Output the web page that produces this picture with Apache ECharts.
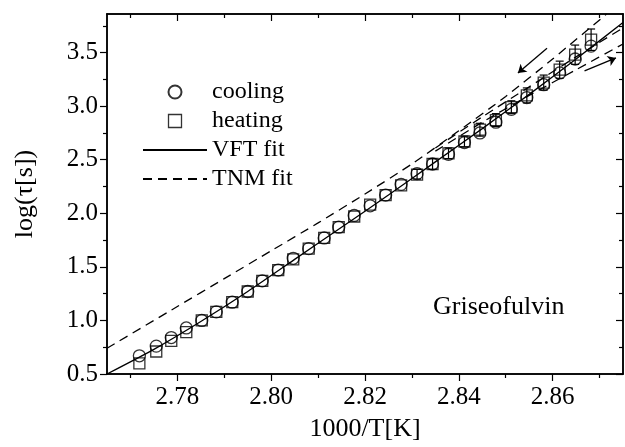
<!DOCTYPE html>
<html lang="en">
<head>
<meta charset="UTF-8">
<script src="https://cdn.jsdelivr.net/npm/echarts@6/dist/echarts.min.js"></script>
<style>
    html, body { margin: 0; padding: 0; background: #ffffff; }
    #chart { width: 625px; height: 447px; }
</style>
</head>
<body>
<div id="chart"></div>
<script>
    // measured points (1000/T)
    var invT = [2.7719, 2.7755, 2.7787, 2.7819, 2.7852, 2.7883, 2.7917, 2.7950, 2.7981, 2.8015,
                2.8047, 2.8080, 2.8113, 2.8144, 2.8177, 2.8211, 2.8244, 2.8277, 2.8311, 2.8344,
                2.8378, 2.8412, 2.8445, 2.8479, 2.8512, 2.8545, 2.8581, 2.8615, 2.8648, 2.8682];
    var coolingLog = [0.67, 0.76, 0.84, 0.93, 1.00, 1.08, 1.17, 1.27, 1.37, 1.47,
                      1.58, 1.67, 1.77, 1.87, 1.98, 2.07, 2.17, 2.27, 2.37, 2.46,
                      2.55, 2.66, 2.75, 2.85, 2.97, 3.08, 3.20, 3.31, 3.44, 3.56];
    var heatingLog = [0.60, 0.71, 0.81, 0.89, 1.00, 1.08, 1.17, 1.27, 1.37, 1.47,
                      1.57, 1.67, 1.77, 1.87, 1.97, 2.08, 2.17, 2.26, 2.36, 2.46,
                      2.56, 2.67, 2.78, 2.87, 2.99, 3.10, 3.22, 3.34, 3.48, 3.62];
    var errLog = [0, 0, 0, 0, 0, 0, 0, 0, 0, 0,
                  0, 0, 0, 0, 0, 0, 0, 0, 0.04, 0.05,
                  0.05, 0.05, 0.06, 0.06, 0.06, 0.07, 0.07, 0.08, 0.09, 0.10];

    // fit curves
    var vftX = [2.765, 2.775, 2.785, 2.795, 2.805, 2.815, 2.825, 2.835, 2.845, 2.855, 2.865, 2.875];
    var vftY = [0.50, 0.73, 0.99, 1.27, 1.57, 1.87, 2.17, 2.48, 2.79, 3.11, 3.44, 3.78];
    var tnmX = [2.765, 2.78, 2.79, 2.80, 2.81, 2.82, 2.83, 2.84, 2.85, 2.86, 2.8715];
    var tnmY = [0.74, 1.13, 1.39, 1.65, 1.91, 2.18, 2.46, 2.77, 3.09, 3.44, 3.86];
    var tnmMidX = [2.835, 2.845, 2.855, 2.865, 2.875];
    var tnmMidY = [2.61, 2.90, 3.18, 3.46, 3.73];
    var tnmLowX = [2.835, 2.845, 2.855, 2.865, 2.875];
    var tnmLowY = [2.58, 2.85, 3.10, 3.34, 3.58];

    var arrowCool = [[2.8588, 3.54], [2.8526, 3.31]];
    var arrowHeat = [[2.8668, 3.33], [2.8735, 3.45]];

    var xMajor = [2.78, 2.80, 2.82, 2.84, 2.86];
    var xMinor = [2.77, 2.79, 2.81, 2.83, 2.85, 2.87];
    var yMajor = [0.5, 1.0, 1.5, 2.0, 2.5, 3.0, 3.5];
    var yMinor = [0.75, 1.25, 1.75, 2.25, 2.75, 3.25, 3.75];

    var FONT = '"Liberation Serif", "DejaVu Serif", serif';
    var chart = echarts.init(document.getElementById('chart'));

    function pairs(xs, ys) {
        return xs.map(function (x, i) { return [x, ys[i]]; });
    }

    function xAxisDef(pos, ticks, len, inside, labels) {
        return {
            type: 'value', position: pos, min: 2.765, max: 2.875,
            name: labels ? '1000/T[K]' : '', nameLocation: 'middle', nameGap: 42,
            nameTextStyle: { fontFamily: FONT, fontSize: 26, color: '#000' },
            axisLine: { show: true, lineStyle: { color: '#000', width: 1.5 } },
            axisTick: { show: true, inside: inside, length: len, customValues: ticks,
                        lineStyle: { color: '#000', width: 1.2 } },
            axisLabel: { show: labels, customValues: ticks, margin: 11,
                         fontFamily: FONT, fontSize: 25, color: '#000',
                         formatter: function (v) { return v.toFixed(2); } },
            splitLine: { show: false }
        };
    }

    function yAxisDef(pos, ticks, len, inside, labels) {
        return {
            type: 'value', position: pos, min: 0.5, max: 3.86,
            name: labels ? 'log(τ[s])' : '', nameLocation: 'middle', nameGap: 69,
            nameTextStyle: { fontFamily: FONT, fontSize: 26, color: '#000' },
            axisLine: { show: true, lineStyle: { color: '#000', width: 1.5 } },
            axisTick: { show: true, inside: inside, length: len, customValues: ticks,
                        lineStyle: { color: '#000', width: 1.2 } },
            axisLabel: { show: labels, customValues: ticks, margin: 9,
                         fontFamily: FONT, fontSize: 25, color: '#000',
                         formatter: function (v) { return v.toFixed(1); } },
            splitLine: { show: false }
        };
    }

    var errData = invT.map(function (x, i) {
        return [x, heatingLog[i] - errLog[i], Math.max(heatingLog[i], coolingLog[i]) + errLog[i], errLog[i]];
    });

    var squareIcon = 'path://M0,0L10,0L10,10L0,10Z';
    var openStyle = { color: 'rgba(255,255,255,0)', borderColor: '#000', borderWidth: 1.3 };
    var hiddenDot = { opacity: 0 };

    var option = {
        backgroundColor: '#ffffff',
        animation: false,
        grid: { left: 107, right: 2, top: 14, bottom: 70 },
        xAxis: [
            xAxisDef('bottom', xMajor, 7, false, true),
            xAxisDef('bottom', xMinor, 4, false, false),
            xAxisDef('top', xMajor, 7, true, false),
            xAxisDef('top', xMinor, 4, true, false)
        ],
        yAxis: [
            yAxisDef('left', yMajor, 7, false, true),
            yAxisDef('left', yMinor, 4, false, false),
            yAxisDef('right', yMajor, 7, true, false),
            yAxisDef('right', yMinor, 4, true, false)
        ],
        legend: {
            orient: 'vertical', left: 137, top: 75,
            itemWidth: 64, itemHeight: 13, itemGap: 5,
            textStyle: { fontFamily: FONT, fontSize: 24, color: '#000' },
            data: [
                { name: 'cooling', icon: 'circle' },
                { name: 'heating', icon: squareIcon, itemStyle: { borderWidth: 1.3 } },
                { name: 'VFT fit', itemStyle: hiddenDot },
                { name: 'TNM fit', itemStyle: hiddenDot }
            ]
        },
        graphic: [{
            type: 'text', left: 433, top: 294,
            style: { text: 'Griseofulvin', fontFamily: FONT, fontSize: 26, fill: '#000' }
        }],
        series: [
            {
                name: 'VFT fit', type: 'line', data: pairs(vftX, vftY), smooth: 0.2,
                symbol: 'none', itemStyle: { color: '#000' },
                lineStyle: { color: '#000', width: 1.3 }, z: 2
            },
            {
                name: 'TNM fit', type: 'line', data: pairs(tnmX, tnmY), smooth: 0.2,
                symbol: 'none', itemStyle: { color: '#000' },
                lineStyle: { color: '#000', width: 1.3, type: [9, 6] }, z: 2
            },
            {
                name: 'TNM fit', type: 'line', data: pairs(tnmMidX, tnmMidY), smooth: 0.2,
                symbol: 'none', itemStyle: { color: '#000' },
                lineStyle: { color: '#000', width: 1.3, type: [9, 6] }, z: 2
            },
            {
                name: 'TNM fit', type: 'line', data: pairs(tnmLowX, tnmLowY), smooth: 0.2,
                symbol: 'none', itemStyle: { color: '#000' },
                lineStyle: { color: '#000', width: 1.3, type: [9, 6] }, z: 2
            },
            {
                name: 'err', type: 'custom', data: errData, z: 3,
                renderItem: function (params, api) {
                    if (api.value(3) <= 0) return;
                    var lo = api.coord([api.value(0), api.value(1)]);
                    var hi = api.coord([api.value(0), api.value(2)]);
                    var st = { stroke: '#000', lineWidth: 1.2 };
                    return {
                        type: 'group', children: [
                            { type: 'line', shape: { x1: lo[0], y1: lo[1], x2: hi[0], y2: hi[1] }, style: st },
                            { type: 'line', shape: { x1: lo[0] - 4, y1: lo[1], x2: lo[0] + 4, y2: lo[1] }, style: st },
                            { type: 'line', shape: { x1: hi[0] - 4, y1: hi[1], x2: hi[0] + 4, y2: hi[1] }, style: st }
                        ]
                    };
                }
            },
            {
                name: 'cooling', type: 'scatter', data: pairs(invT, coolingLog),
                symbol: 'circle', symbolSize: 12, z: 4, itemStyle: openStyle
            },
            {
                name: 'heating', type: 'scatter', data: pairs(invT, heatingLog),
                symbol: 'rect', symbolSize: 11, z: 4, itemStyle: openStyle
            },
            {
                name: 'arrows', type: 'lines', coordinateSystem: 'cartesian2d', z: 5,
                symbol: ['none', 'arrow'], symbolSize: 8,
                lineStyle: { color: '#000', width: 1.3, opacity: 1 },
                data: [{ coords: arrowCool }, { coords: arrowHeat }]
            }
        ]
    };

    chart.setOption(option);
</script>
</body>
</html>
